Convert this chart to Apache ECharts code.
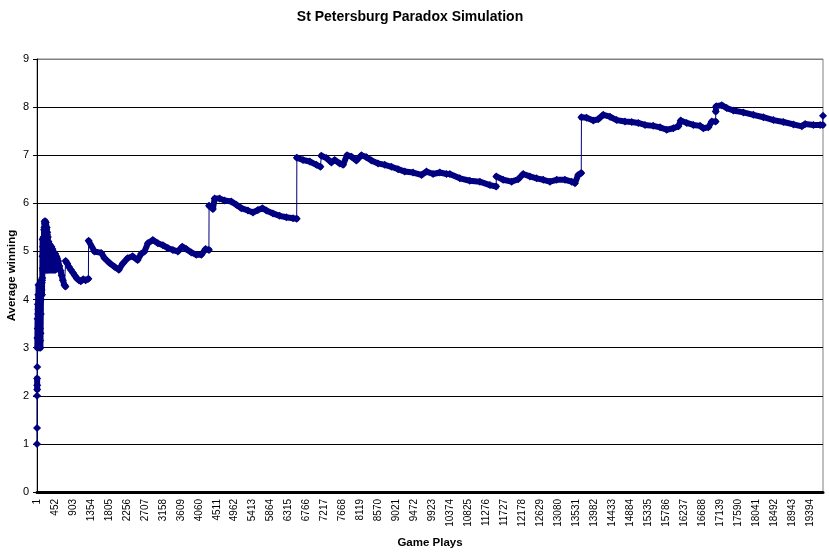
<!DOCTYPE html>
<html>
<head>
<meta charset="utf-8">
<script src="https://cdn.jsdelivr.net/npm/echarts@6/dist/echarts.min.js"></script>
<style>
html,body{margin:0;padding:0;background:#fff;}
#c{width:829px;height:559px;}
</style>
</head>
<body>
<div id="c"></div>
<script>
const gamePlay = [
  1,2,3,4,5,6,7,9,11,15,19,23,27,31,35,39,43,47,51,56,61,66,71,76,81,86,91,96,101,106,111,116,121,126,130,
  134,138,142,146,150,154,158,162,166,170,174,178,182,186,190,194,198,202,206,210,214,218,222,226,230,234,
  238,242,246,250,254,258,262,266,270,274,278,282,286,290,296,302,308,314,320,326,332,338,344,350,356,362,
  368,374,380,386,392,398,404,410,416,422,428,434,440,446,452,458,464,470,476,482,488,494,500,506,512,
  530,560,590,620,650,690,715,720,760,800,850,900,950,1000,1050,1100,1160,1220,1290,1296,
  1444,1612,1695,1820,1946,2054,2154,2272,2398,2524,2616,2699,2782,2908,3033,3159,3284,3410,3535,3646,
  3746,3872,3997,4123,4231,4314,4318,4414,4457,4583,4708,4876,5002,5127,5293,5419,5544,5655,5755,5921,
  6089,6257,6423,6516,6520,6674,6843,7011,7111,7136,7262,7387,7470,7596,7679,7779,7890,8015,8141,8266,
  8392,8558,8726,8894,9060,9228,9436,9647,9773,9939,10107,10275,10358,10609,10860,11111,11362,11520,11525,
  11696,11907,12073,12198,12367,12535,12701,12869,13037,13245,13414,13496,13579,13655,13660,13790,13956,
  14082,14207,14375,14543,14752,14920,15086,15254,15462,15631,15799,15965,16091,16151,16302,16468,16636,
  16719,16845,16930,17026,17030,17040,17180,17306,17471,17722,17974,18225,18476,18727,18978,19189,19272,
  19480,19648,19712,19720
];
// Average winning at each of those game plays
const avgWinning = [
  1.0,1.33,2.0,2.36,2.22,2.13,2.6,3.0,3.2,3.6,3.4,3.9,3.7,4.1,3.8,4.3,3.5,3.2,3.0,3.3,3.1,3.5,3.8,3.4,3.15,3.0,3.3,3.7,4.0,4.3,4.4,4.2,4.35,4.1,4.4,
  4.45,4.9,5.25,4.65,5.1,4.6,5.28,4.8,4.62,5.3,5.0,5.45,4.7,5.5,5.62,5.3,4.65,5.58,5.63,5.2,4.62,5.55,5.6,4.9,4.62,5.45,
  5.1,4.62,5.5,5.35,4.7,5.4,4.62,5.2,4.8,5.3,4.62,5.15,4.7,5.2,4.62,5.1,4.7,5.15,4.62,5.05,4.75,5.1,4.62,5.0,4.68,5.1,
  4.62,5.0,4.65,5.05,4.62,4.95,4.7,5.0,4.62,4.9,4.65,4.95,4.62,4.9,4.65,4.95,4.62,4.9,4.65,4.9,4.66,4.88,4.7,4.85,4.75,
  4.8,4.7,4.6,4.5,4.4,4.3,4.27,4.8,4.75,4.68,4.62,4.56,4.5,4.44,4.4,4.38,4.42,4.4,4.43,5.22,
  5.0,4.97,4.86,4.76,4.68,4.62,4.75,4.86,4.9,4.82,4.95,5.0,5.17,5.24,5.17,5.13,5.07,5.03,5.0,5.1,
  5.05,4.98,4.93,4.93,5.05,5.03,5.95,5.88,6.1,6.1,6.06,6.04,5.97,5.9,5.85,5.81,5.86,5.9,5.85,5.79,
  5.74,5.71,5.69,5.68,6.95,6.9,6.87,6.8,6.76,6.99,6.94,6.85,6.9,6.83,6.8,7.0,6.97,6.89,7.0,6.96,
  6.89,6.83,6.8,6.76,6.71,6.66,6.64,6.59,6.66,6.61,6.64,6.61,6.61,6.52,6.47,6.45,6.38,6.35,6.56,
  6.49,6.45,6.5,6.61,6.56,6.52,6.49,6.45,6.49,6.49,6.45,6.42,6.59,6.63,7.79,7.78,7.72,
  7.75,7.84,7.8,7.73,7.7,7.69,7.67,7.63,7.61,7.58,7.53,7.56,7.6,7.72,7.67,7.63,7.61,
  7.56,7.58,7.7,7.7,7.91,8.02,8.04,7.98,7.93,7.89,7.84,7.79,7.73,7.69,7.64,7.6,7.65,
  7.63,7.63,7.63,7.82
];
const totalPlays = 19720;
const xTickLabels = [1,452,903,1354,1805,2256,2707,3158,3609,4060,4511,4962,5413,5864,6315,6766,7217,7668,8119,
  8570,9021,9472,9923,10374,10825,11276,11727,12178,12629,13080,13531,13982,14433,14884,15335,15786,16237,16688,
  17139,17590,18041,18492,18943,19394];
const yTicks = [0,1,2,3,4,5,6,7,8,9];
// the early, turbulent stretch where markers merge into one solid mass
const turbulentPlays = [9, 520];

const points = gamePlay.map((g, k) => [g, avgWinning[k]]);
// thick trace between markers, broken where the average jumps abruptly
const band = [];
for (let k = 0; k < points.length; k++) {
  if (k > 0) {
    const di = gamePlay[k] - gamePlay[k - 1];
    const dv = Math.abs(avgWinning[k] - avgWinning[k - 1]);
    const inTurbulent = gamePlay[k - 1] >= turbulentPlays[0] && gamePlay[k] <= turbulentPlays[1];
    if (!inTurbulent && dv > 0.15 && di < 40) band.push([gamePlay[k - 1], '-']);
  }
  band.push(points[k]);
}

const FONT = 'Liberation Sans';
const NAVY = '#000080';
const chart = echarts.init(document.getElementById('c'), null, {renderer: 'canvas'});
chart.setOption({
  backgroundColor: '#fff',
  animation: false,
  title: {
    text: 'St Petersburg Paradox Simulation',
    left: 410, top: 10, padding: 0, textAlign: 'center',
    textStyle: {fontFamily: FONT, fontSize: 14, fontWeight: 'bold', color: '#000'}
  },
  grid: {left: 37, right: 6, top: 59, bottom: 67, show: true, borderColor: '#808080', borderWidth: 1,
    backgroundColor: '#fff', containLabel: false, outerBoundsMode: 'none'},
  xAxis: {
    type: 'value', min: 1, max: totalPlays,
    name: 'Game Plays', nameLocation: 'middle', nameGap: 44, nameMoveOverlap: false,
    nameTextStyle: {fontFamily: FONT, fontSize: 11.5, fontWeight: 'bold', color: '#000'},
    offset: 1,
    axisLine: {show: true, lineStyle: {color: '#000', width: 3}},
    axisTick: {show: false},
    splitLine: {show: false},
    axisLabel: {
      customValues: xTickLabels, rotate: 90, margin: 6,
      fontFamily: FONT, fontSize: 10, color: '#000',
      formatter: v => String(v)
    }
  },
  yAxis: {
    type: 'value', min: yTicks[0], max: yTicks[yTicks.length - 1], interval: 1,
    name: 'Average winning', nameLocation: 'middle', nameGap: 19, nameMoveOverlap: false,
    nameTextStyle: {fontFamily: FONT, fontSize: 11.5, fontWeight: 'bold', color: '#000'},
    axisLine: {show: true, lineStyle: {color: '#000', width: 1}},
    axisTick: {show: true, inside: false, length: 4, lineStyle: {color: '#000'}},
    axisLabel: {margin: 8, fontFamily: FONT, fontSize: 11, color: '#000'},
    splitLine: {show: true, lineStyle: {color: ['#000','#000','#000','#000','#000','#000','#000','#000','#000','#808080'], width: 1}}
  },
  series: [
    {
      type: 'line', data: band, symbol: 'none', connectNulls: false,
      lineStyle: {color: NAVY, width: 6, join: 'round', cap: 'round'}, z: 2, silent: true
    },
    {
      type: 'line', data: points, symbol: 'diamond', symbolSize: 8, showSymbol: true, showAllSymbol: true,
      itemStyle: {color: NAVY, borderWidth: 0},
      lineStyle: {color: NAVY, width: 1}, z: 3, silent: true
    }
  ]
});
</script>
</body>
</html>
